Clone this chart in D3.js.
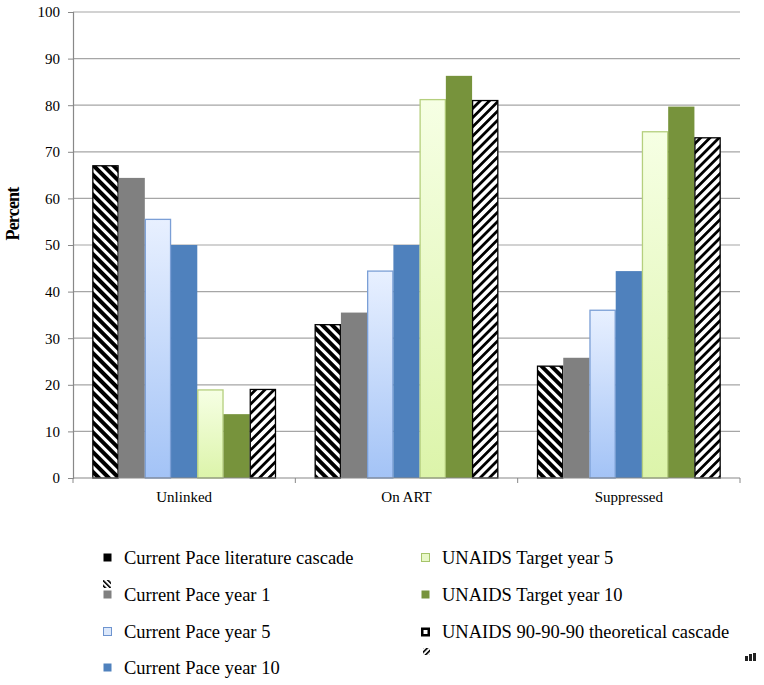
<!DOCTYPE html>
<html><head><meta charset="utf-8">
<script src="https://cdn.jsdelivr.net/npm/d3@7"></script>
<style>body{margin:0;background:#fff}svg{display:block}text{font-family:"Liberation Serif","Times New Roman",serif}</style>
</head><body>
<script>
const categories = ["Unlinked", "On ART", "Suppressed"];
const seriesNames = ["Current Pace literature cascade","Current Pace year 1","Current Pace year 5","Current Pace year 10","UNAIDS Target year 5","UNAIDS Target year 10","UNAIDS 90-90-90 theoretical cascade"];
const litCascade = [67.0, 32.9, 24.0];
const paceY1 = [64.4, 35.5, 25.8];
const paceY5 = [55.5, 44.4, 36.0];
const paceY10 = [50.0, 50.0, 44.4];
const unaidsY5 = [18.9, 81.2, 74.3];
const unaidsY10 = [13.7, 86.3, 79.7];
const theoretical = [19.0, 81.0, 73.0];
const yTicks = [0,10,20,30,40,50,60,70,80,90,100];
const values = [litCascade, paceY1, paceY5, paceY10, unaidsY5, unaidsY10, theoretical];
const fills = ["url(#hatchBlack)","#808080","url(#gradBlue)","#4f81bd","url(#gradGreen)","#77933c","url(#hatchWhite)"];
const strokes = ["#000","none","#7b9fd6","none","#b5cf7e","none","#000"];
const SERIF='"Liberation Serif","Times New Roman",serif';

const W=764,H=685;
const m={l:73,r:24,t:12,b:207};
const svg=d3.select("body").append("svg").attr("width",W).attr("height",H);
const defs=svg.append("defs");
function hatch(id,size,stripe,bg,fg,angle){
  const p=defs.append("pattern").attr("id",id).attr("patternUnits","userSpaceOnUse").attr("width",size).attr("height",size).attr("patternTransform",`rotate(${angle})`);
  p.append("rect").attr("width",size).attr("height",size).attr("fill",bg);
  p.append("rect").attr("width",stripe).attr("height",size).attr("fill",fg);
}
hatch("hatchBlack",7,3,"#000","#fff",-45);
hatch("hatchWhite",6.5,2.8,"#fff","#000",45);
hatch("hatchBlackS",3.6,1.6,"#fff","#000",-45);
hatch("hatchWhiteS",3.6,1.6,"#fff","#000",45);
const gb=defs.append("linearGradient").attr("id","gradBlue").attr("x1",0).attr("y1",0).attr("x2",0).attr("y2",1);
gb.append("stop").attr("offset","0%").attr("stop-color","#e8f0ff");
gb.append("stop").attr("offset","100%").attr("stop-color","#a3c3f6");
const gg=defs.append("linearGradient").attr("id","gradGreen").attr("x1",0).attr("y1",0).attr("x2",0).attr("y2",1);
gg.append("stop").attr("offset","0%").attr("stop-color","#f6ffe4");
gg.append("stop").attr("offset","100%").attr("stop-color","#dcf4aa");

const x0=d3.scaleBand().domain(categories).range([m.l,W-m.r]).padding(0);
const bw=x0.bandwidth();
const x1=d3.scaleBand().domain(seriesNames).range([bw*0.087,bw*0.913]).padding(0);
const y=d3.scaleLinear().domain([0,100]).range([H-m.b,m.t]);

// grid
svg.append("g").selectAll("line").data(yTicks.filter(d=>d>0)).join("line")
 .attr("x1",m.l).attr("x2",W-m.r).attr("y1",d=>y(d)).attr("y2",d=>y(d))
 .attr("stroke","#a6a6a6").attr("stroke-width",1.2);

// bars
const g=svg.append("g");
seriesNames.forEach((s,i)=>{
  g.append("g").selectAll("rect").data(categories).join("rect")
   .attr("x",(c)=>x0(c)+x1(s)+(strokes[i]!=="none"?0.5:0))
   .attr("width",x1.bandwidth()-(strokes[i]!=="none"?1:0))
   .attr("y",(c,j)=>y(values[i][j]))
   .attr("height",(c,j)=>y(0)-y(values[i][j]))
   .attr("fill",fills[i]).attr("stroke",strokes[i]).attr("stroke-width",1.3);
});

// y axis
const ya=svg.append("g").attr("transform",`translate(${m.l},0)`)
 .call(d3.axisLeft(y).tickValues(yTicks).tickSize(5).tickPadding(8));
ya.attr("font-family",SERIF).attr("font-size",15);
ya.select(".domain").attr("stroke","#888").attr("stroke-width",1.2);
ya.selectAll(".tick line").attr("stroke","#888");
ya.selectAll("text").attr("fill","#000");

// x axis
svg.append("line").attr("x1",m.l).attr("x2",W-m.r).attr("y1",y(0)).attr("y2",y(0)).attr("stroke","#888").attr("stroke-width",1.2);
const xt=[...categories.map(c=>x0(c)),W-m.r];
svg.append("g").selectAll("line").data(xt).join("line")
 .attr("x1",d=>d).attr("x2",d=>d).attr("y1",y(0)).attr("y2",y(0)+5).attr("stroke","#888");
svg.append("g").attr("font-family",SERIF).selectAll("text").data(categories).join("text")
 .attr("x",c=>x0(c)+bw/2).attr("y",y(0)+24).attr("text-anchor","middle")
 .attr("font-size",15).text(d=>d);

// y title
svg.append("text").attr("transform","translate(19,214) rotate(-90)").attr("text-anchor","middle")
 .attr("font-family",SERIF).attr("font-size",18).attr("font-weight","bold").attr("letter-spacing","-0.8").text("Percent");

// legend
const legPos=[[103,558],[103,595],[103,632],[103,668],[421,558],[421,595],[421,632]];
const legFill=["#000","#808080","#dce8fb","#4f81bd","#e8f8c8","#77933c","#fff"];
const legStroke=["none","none","#6e94cf","none","#a6c46a","none","#000"];
const lg=svg.append("g").attr("font-family",SERIF);
seriesNames.forEach((s,i)=>{
  const [lx,ly]=legPos[i];
  if(i===6){
    lg.append("rect").attr("x",lx+1.25).attr("y",ly-3.25).attr("width",6.5).attr("height",6.5)
      .attr("fill","#fff").attr("stroke","#000").attr("stroke-width",2.5);
  } else {
    lg.append("rect").attr("x",lx+0.5).attr("y",ly-4.5).attr("width",8).attr("height",8)
      .attr("fill",legFill[i]).attr("stroke",legStroke[i]).attr("stroke-width",1);
  }
  lg.append("text").attr("x",lx+21).attr("y",ly+6).attr("font-size",18.5).text(s);
});
// stray hatch icons (as in original)
lg.append("rect").attr("x",103).attr("y",580).attr("width",8).attr("height",8).attr("fill","url(#hatchBlackS)");
lg.append("rect").attr("x",423).attr("y",648).attr("width",7).attr("height",7).attr("fill","url(#hatchWhiteS)");
const ic=lg.append("g").attr("transform","translate(745,653)");
ic.append("rect").attr("x",0).attr("y",3).attr("width",3).attr("height",5).attr("fill","#222");
ic.append("rect").attr("x",4).attr("y",1).attr("width",3).attr("height",7).attr("fill","#222");
ic.append("rect").attr("x",8).attr("y",0).attr("width",3).attr("height",8).attr("fill","#222");
</script>
</body></html>
